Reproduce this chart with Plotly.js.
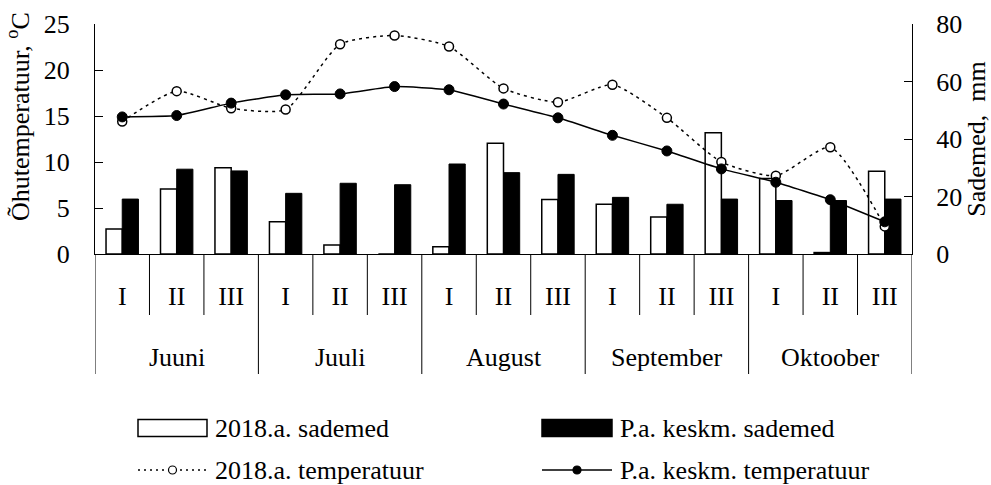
<!DOCTYPE html>
<html><head><meta charset="utf-8">
<script src="https://cdn.plot.ly/plotly-3.0.1.min.js"></script>
<style>html,body{margin:0;padding:0;background:#fff}#chart{width:991px;height:485px}</style>
</head><body><div id="chart"></div>
<script>
// ---- data ----
const months = ['Juuni', 'Juuli', 'August', 'September', 'Oktoober'];
const dekads = ['I', 'II', 'III'];
const precip2018 = [8.7, 22.6, 30.0, 11.2, 3.1, 0, 2.5, 38.5, 19.0, 17.3, 12.9, 42.2, 26.3, 0.5, 28.8];
const precipAvg  = [19.1, 29.5, 28.9, 21.1, 24.6, 24.1, 31.3, 28.3, 27.7, 19.7, 17.3, 19.1, 18.6, 18.6, 19.1];
const temp2018   = [14.4, 17.7, 15.85, 15.7, 22.8, 23.75, 22.55, 18.0, 16.5, 18.4, 14.8, 10.0, 8.5, 11.6, 3.0];
const tempAvg    = [14.9, 15.05, 16.4, 17.3, 17.4, 18.2, 17.85, 16.3, 14.8, 12.9, 11.2, 9.25, 7.8, 5.9, 3.5];
const seriesNames = ['2018.a. sademed', 'P.a. keskm. sademed', '2018.a. temperatuur', 'P.a. keskm. temperatuur'];
const leftTitle = 'Õhutemperatuur, <sup>o</sup>C';
const rightTitle = 'Sademed,\u00a0 mm';

// ---- categories ----
const cats = [], catText = [];
months.forEach(m => dekads.forEach(d => { cats.push(m + ' ' + d); catText.push(d); }));
const monthMid = months.map((m, i) => cats[i * dekads.length + 1]);

// ---- geometry helpers ----
const W = 991, H = 485, M = {l: 95, r: 79, t: 24, b: 231};
const pw = W - M.l - M.r, ph = H - M.t - M.b;
const px = x => (x - M.l) / pw;
const py = y => (H - M.b - y) / ph;
const FONT = 'Liberation Serif, Times New Roman, serif';
const FS = 26;
const tf = {family: FONT, size: FS, color: '#000'};

const traces = [
  {type: 'bar', x: cats, y: precip2018, name: seriesNames[0], yaxis: 'y',
   marker: {color: '#ffffff', line: {color: '#000', width: 1.5}}},
  {type: 'bar', x: cats, y: precipAvg, name: seriesNames[1], yaxis: 'y',
   marker: {color: '#000000', line: {color: '#000', width: 1}}},
  {type: 'scatter', mode: 'lines+markers', x: cats, y: temp2018, name: seriesNames[2], yaxis: 'y2',
   line: {color: '#000', width: 1.5, dash: '3px,4px', shape: 'spline', smoothing: 0.6},
   marker: {symbol: 'circle', size: 9, color: '#fff', line: {color: '#000', width: 1.5}}},
  {type: 'scatter', mode: 'lines+markers', x: cats, y: tempAvg, name: seriesNames[3], yaxis: 'y2',
   line: {color: '#000', width: 1.5, shape: 'spline', smoothing: 0.4},
   marker: {symbol: 'circle', size: 10, color: '#000', line: {color: '#000', width: 1}}}
];

// separators of the category table
const shapes = [];
for (let i = 0; i <= cats.length; i++) {
  const isMonth = i % dekads.length === 0;
  shapes.push({type: 'line', xref: 'x', yref: 'paper', ysizemode: 'pixel', yanchor: 0,
    x0: i - 0.5, x1: i - 0.5, y0: 0, y1: isMonth ? -120 : -61,
    line: {color: '#000', width: 1}});
}

const annotations = [];
// month labels (second row of the category axis)
months.forEach((m, i) => {
  annotations.push({xref: 'x', yref: 'paper', x: monthMid[i], y: 0, yanchor: 'middle', xanchor: 'center',
    yshift: -103, text: m, showarrow: false, font: tf});
});

// legend drawn with shapes + annotations
function legendItem(kind, x0, x1, yc, label) {
  const xc = (x0 + x1) / 2;
  if (kind === 'barWhite' || kind === 'barBlack') {
    shapes.push({type: 'rect', xref: 'paper', yref: 'paper', x0: px(x0), x1: px(x1), y0: py(yc - 8.5), y1: py(yc + 8.5),
      fillcolor: kind === 'barWhite' ? '#fff' : '#000', line: {color: '#000', width: 1.5}});
  } else {
    shapes.push({type: 'line', xref: 'paper', yref: 'paper', x0: px(x0), x1: px(x1), y0: py(yc), y1: py(yc),
      line: {color: '#000', width: 1.5, dash: kind === 'lineOpen' ? '2px,4px' : 'solid'}});
    shapes.push({type: 'circle', xref: 'paper', yref: 'paper', xsizemode: 'pixel', ysizemode: 'pixel',
      xanchor: px(xc), yanchor: py(yc), x0: -4, x1: 4, y0: -4, y1: 4,
      fillcolor: kind === 'lineOpen' ? '#fff' : '#000', line: {color: '#000', width: 1.2}});
  }
  annotations.push({xref: 'paper', yref: 'paper', x: px(x1 + 6), y: py(yc), xanchor: 'left', yanchor: 'middle',
    text: label, showarrow: false, font: tf});
}
legendItem('barWhite', 138, 207, 428, seriesNames[0]);
legendItem('barBlack', 542, 612, 428, seriesNames[1]);
legendItem('lineOpen', 138, 207, 470, seriesNames[2]);
legendItem('lineFilled', 542, 612, 470, seriesNames[3]);

annotations.push({xref: 'paper', yref: 'paper', x: px(18), y: py(117), xanchor: 'center', yanchor: 'middle',
  text: leftTitle, textangle: -90, showarrow: false, font: tf});

const axisCommon = {showgrid: false, zeroline: false, fixedrange: true, tickfont: tf};

const layout = {
  width: W, height: H, margin: M, paper_bgcolor: '#fff', plot_bgcolor: '#fff',
  font: tf,
  showlegend: false, barmode: 'group', bargap: 0.405, bargroupgap: 0,
  xaxis: Object.assign({}, axisCommon, {type: 'category', categoryorder: 'array', categoryarray: cats,
    tickvals: cats, ticktext: catText, range: [-0.5, cats.length - 0.5],
    showline: true, linecolor: '#000', linewidth: 1, ticks: '', ticklabelstandoff: 19}),
  yaxis: Object.assign({}, axisCommon, {side: 'right', range: [0, 80], tick0: 0, dtick: 20,
    ticks: 'inside', ticklen: 8, tickcolor: '#000', showline: true, linecolor: '#000', linewidth: 1,
    ticklabelstandoff: 18,
    title: {text: rightTitle, font: tf, standoff: 8}}),
  yaxis2: Object.assign({}, axisCommon, {side: 'left', overlaying: 'y', range: [0, 25], tick0: 0, dtick: 5,
    ticks: 'inside', ticklen: 8, tickcolor: '#000', showline: true, linecolor: '#000', linewidth: 1,
    ticklabelstandoff: 19}),
  shapes: shapes, annotations: annotations
};

Plotly.newPlot('chart', traces, layout, {displayModeBar: false, staticPlot: true});
</script></body></html>
